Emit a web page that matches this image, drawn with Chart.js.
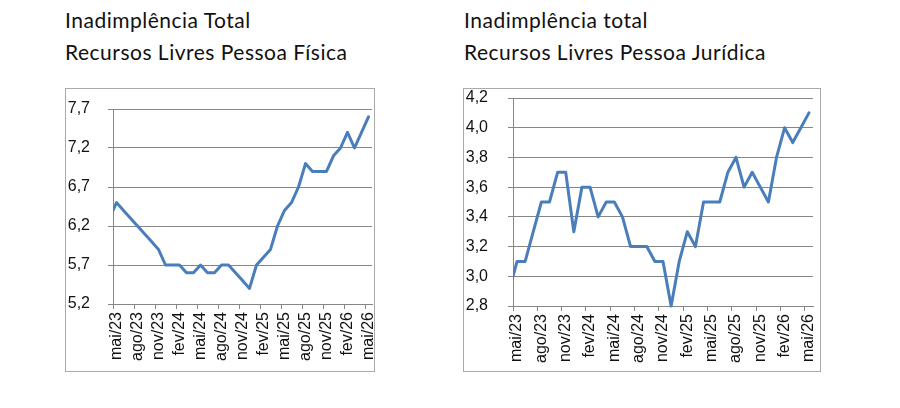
<!DOCTYPE html>
<html>
<head>
<meta charset="utf-8">
<script src="https://cdn.jsdelivr.net/npm/chart.js@4/dist/chart.umd.min.js"></script>
<style>
  body { margin: 0; background: #fff; width: 900px; height: 408px; position: relative; overflow: hidden; }
  .title { position: absolute; font-family: Lato, sans-serif; font-size: 21px; letter-spacing: 0.5px; line-height: 32px; color: #111; white-space: nowrap; }
  .box { position: absolute; border: 1px solid #aaaaaa; box-sizing: border-box; }
  .box canvas { position: absolute; left: 0; top: 0; }
</style>
</head>
<body>
<div class="title" style="left:65px; top:4px;">Inadimplência Total<br>Recursos Livres Pessoa Física</div>
<div class="title" style="left:464px; top:4px;">Inadimplência total<br>Recursos Livres Pessoa Jurídica</div>

<div class="box" style="left:65px; top:88px; width:310px; height:284px;">
  <canvas id="pfChart" width="308" height="282"></canvas>
</div>
<div class="box" style="left:463px; top:88px; width:358px; height:284px;">
  <canvas id="pjChart" width="356" height="282"></canvas>
</div>

<script>
// first label (abr/23) sits just left of the axis, only its segment shows
const months = [
    'abr/23', 'mai/23', 'jun/23', 'jul/23', 'ago/23', 'set/23', 'out/23', 'nov/23', 'dez/23',
    'jan/24', 'fev/24', 'mar/24', 'abr/24', 'mai/24', 'jun/24', 'jul/24', 'ago/24', 'set/24', 'out/24', 'nov/24', 'dez/24',
    'jan/25', 'fev/25', 'mar/25', 'abr/25', 'mai/25', 'jun/25', 'jul/25', 'ago/25', 'set/25', 'out/25', 'nov/25', 'dez/25',
    'jan/26', 'fev/26', 'mar/26', 'abr/26', 'mai/26'
];

// Pessoa Física (%)
const pfValues = [
    6.3, 6.5, 6.4, 6.3, 6.2, 6.1, 6.0, 5.9, 5.7,
    5.7, 5.7, 5.6, 5.6, 5.7, 5.6, 5.6, 5.7, 5.7, 5.6, 5.5, 5.4,
    5.7, 5.8, 5.9, 6.2, 6.4, 6.5, 6.7, 7.0, 6.9, 6.9, 6.9, 7.1,
    7.2, 7.4, 7.2, 7.4, 7.6
];

// Pessoa Jurídica (%)
const pjValues = [
    2.9, 3.1, 3.1, 3.3, 3.5, 3.5, 3.7, 3.7, 3.3,
    3.6, 3.6, 3.4, 3.5, 3.5, 3.4, 3.2, 3.2, 3.2, 3.1, 3.1, 2.8,
    3.1, 3.3, 3.2, 3.5, 3.5, 3.5, 3.7, 3.8, 3.6, 3.7, 3.6, 3.5,
    3.8, 4.0, 3.9, 4.0, 4.1
];

const pfTicks = [5.2, 5.7, 6.2, 6.7, 7.2, 7.7];
const pjTicks = [2.8, 3.0, 3.2, 3.4, 3.6, 3.8, 4.0, 4.2];

const lineColor = '#4a7ebb';
const gridColor = '#868686';
const tickFont = { family: '"Liberation Sans", Arial, sans-serif', size: 16 };

function makeChart(id, values, yTicks, box) {
    return new Chart(document.getElementById(id), {
        type: 'line',
        data: {
            labels: months,
            datasets: [{
                data: values,
                borderColor: lineColor,
                borderWidth: 3,
                pointRadius: 0,
                tension: 0,
                borderJoinStyle: 'round',
                borderCapStyle: 'round',
                clip: { left: 0, top: 5, right: 5, bottom: 5 }
            }]
        },
        options: {
            animation: false,
            responsive: false,
            layout: { padding: { top: box.top, right: box.right, left: 0, bottom: 0 } },
            plugins: {
                legend: { display: false },
                tooltip: { enabled: false }
            },
            scales: {
                x: {
                    type: 'category',
                    min: 'mai/23',
                    offset: true,
                    grid: {
                        offset: true,
                        drawOnChartArea: false,
                        tickLength: 5,
                        color: ctx => ctx.index % 3 === 0 ? gridColor : 'rgba(0,0,0,0)'
                    },
                    border: { color: gridColor },
                    ticks: {
                        autoSkip: false,
                        minRotation: 90,
                        maxRotation: 90,
                        padding: 3,
                        color: '#111',
                        font: tickFont,
                        callback: function(value, index) {
                            return index % 3 === 0 ? this.getLabelForValue(value) : '';
                        }
                    },
                    afterFit: scale => {
                        scale.height = box.bottom;
                        scale.paddingLeft = 0;
                        scale.paddingRight = 0;
                    }
                },
                y: {
                    min: yTicks[0],
                    max: yTicks[yTicks.length - 1],
                    grid: { color: gridColor, tickLength: 5 },
                    border: { color: gridColor },
                    ticks: {
                        padding: box.labelGap,
                        color: '#111',
                        font: tickFont,
                        callback: v => v.toFixed(1).replace('.', ',')
                    },
                    afterBuildTicks: scale => {
                        scale.ticks = yTicks.map(v => ({ value: v }));
                    },
                    afterFit: scale => {
                        scale.width = box.left;
                        scale.paddingTop = 0;
                        scale.paddingBottom = 0;
                    }
                }
            }
        }
    });
}

makeChart('pfChart', pfValues, pfTicks, { left: 47, top: 20, right: 2, bottom: 67, labelGap: 18 });
makeChart('pjChart', pjValues, pjTicks, { left: 49, top: 9, right: 7, bottom: 65, labelGap: 20 });
</script>
</body>
</html>
